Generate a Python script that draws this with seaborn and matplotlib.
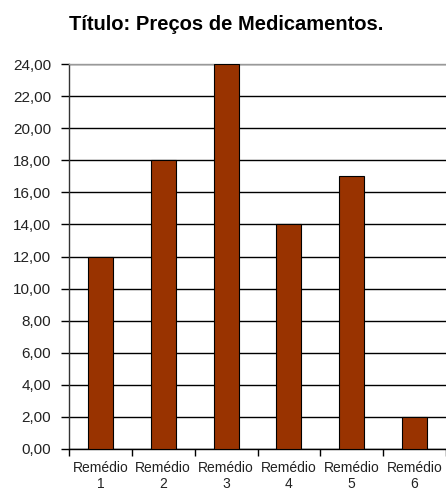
import matplotlib
matplotlib.use("Agg")
import matplotlib.pyplot as plt
import seaborn as sns
import pandas as pd
import numpy as np

categories = ["Remédio\n1", "Remédio\n2", "Remédio\n3", "Remédio\n4", "Remédio\n5", "Remédio\n6"]
precos = [12, 18, 24, 14, 17, 2]
yticks = [0, 2, 4, 6, 8, 10, 12, 14, 16, 18, 20, 22, 24]

sns.set_style("white")
plt.rcParams['font.family'] = ['Liberation Sans', 'DejaVu Sans']

df = pd.DataFrame({"cat": categories, "preco": precos})

fig = plt.figure(figsize=(4.46, 4.92), dpi=100)
ax = fig.add_axes([69/446, 1 - 449/492, 377/446, (449 - 64)/492])

sns.barplot(data=df, x="cat", y="preco", color="#993300", saturation=1,
            width=0.4, edgecolor="black", linewidth=0.8, ax=ax, zorder=3)

ax.set_ylim(0, 24)
ax.set_xlim(-0.5, 5.5)
ax.set_yticks(yticks)
ax.set_yticklabels([f"{v:.2f}".replace(".", ",") for v in yticks], fontsize=11, color="#222222")
ax.yaxis.grid(True, color="black", linewidth=1, zorder=0)
ax.set_axisbelow(True)

# x: labels at centers (minor), tick marks at boundaries (major)
ax.set_xticks(np.arange(-0.5, 6, 1))
ax.set_xticklabels([])
ax.set_xticks(np.arange(6), minor=True)
ax.set_xticklabels(categories, minor=True, fontsize=10, color="#222222", linespacing=1.15)
ax.tick_params(axis="x", which="major", length=5, width=1, color="black", direction="out", bottom=True)
ax.tick_params(axis="x", which="minor", length=0, pad=9)
ax.tick_params(axis="y", length=6, width=1, color="black", direction="out", left=True, pad=7)

ax.set_xlabel("")
ax.set_ylabel("")

ax.spines["right"].set_visible(False)
ax.spines["top"].set_color("#999999")
ax.spines["left"].set_color("#333333")
ax.spines["bottom"].set_color("black")
for s in ax.spines.values():
    s.set_linewidth(1)

fig.text(226/446, 1 - 24/492, "Título: Preços de Medicamentos.", ha="center", va="center",
         fontsize=14.5, fontweight="bold", color="black")

fig.savefig("out.png", dpi=100)
